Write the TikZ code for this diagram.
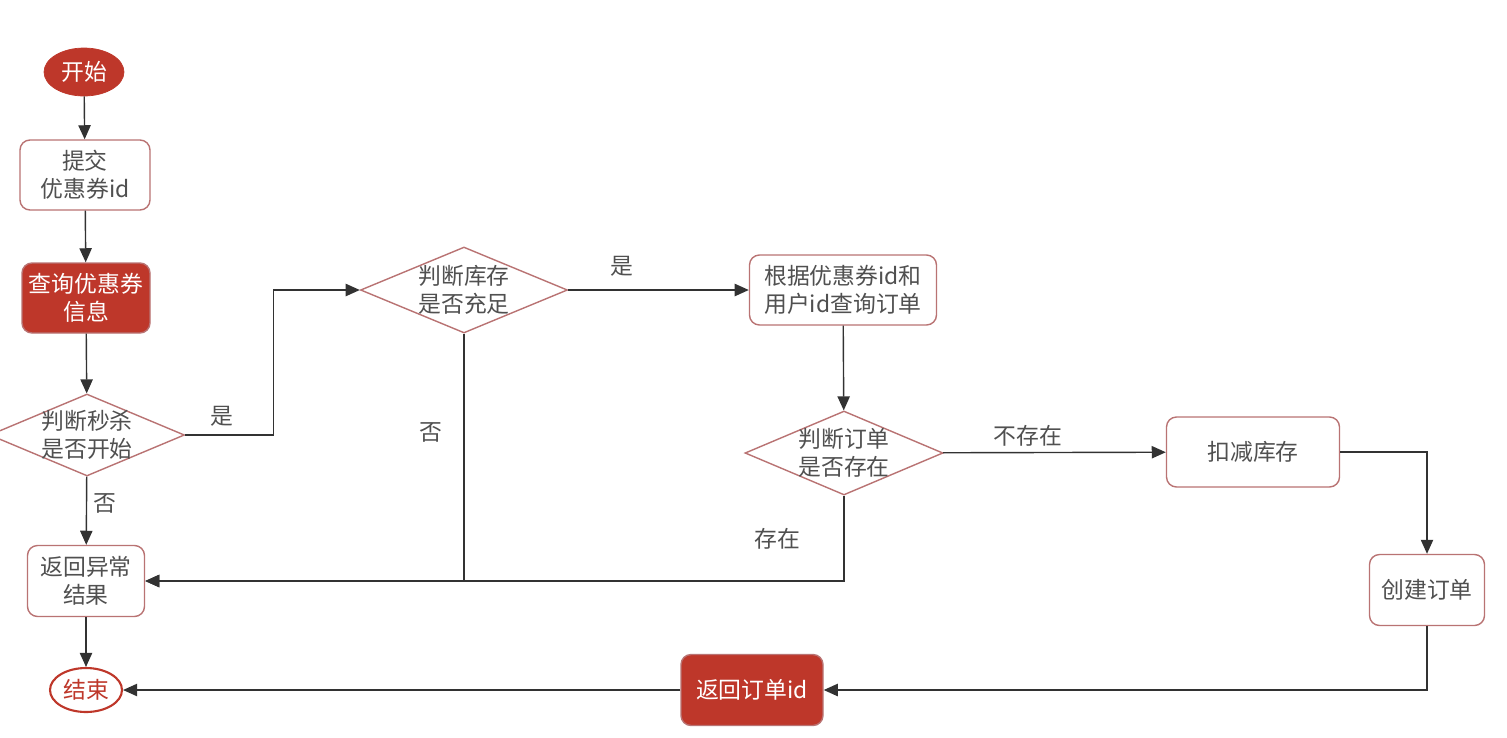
\documentclass[tikz,border=0pt]{standalone}
\usepackage{fontspec}
\setmainfont{Noto Sans CJK SC}
\usepackage{xcolor}
\usepackage{tikz}
\usetikzlibrary{shapes.geometric, arrows.meta, positioning, calc}

\definecolor{seckillred}{RGB}{190,55,42}
\definecolor{edgerose}{RGB}{185,115,115}
\definecolor{textgray}{RGB}{80,80,80}
\definecolor{linegray}{RGB}{50,50,50}

\begin{document}
\begin{tikzpicture}[
    font=\fontsize{13}{16}\selectfont,
    stepbox/.style={rectangle, draw=edgerose, rounded corners=0.2cm, fill=white, text=textgray, align=center, thick},
    hotbox/.style={rectangle, draw=edgerose, rounded corners=0.2cm, fill=seckillred, text=white, align=center, thick},
    checkbox/.style={diamond, draw=edgerose, fill=white, text=textgray, align=center, aspect=2.4, inner sep=-3pt, thick},
    flowline/.style={-{Stealth[length=8pt, width=7pt, inset=0pt]}, thick, draw=linegray},
    tag/.style={text=textgray}
]
    \useasboundingbox (0,0) rectangle (30.14,-14.74);

    \node (start) [ellipse, fill=seckillred, draw=seckillred, text=white, minimum width=1.6cm, minimum height=0.96cm, inner sep=0pt] at (1.68,-1.44) {开始};
    \node (submit) [stepbox, minimum width=2.6cm, minimum height=1.4cm] at (1.70,-3.50) {提交\\优惠券id};
    \node (query) [hotbox, minimum width=2.56cm, minimum height=1.4cm] at (1.72,-5.96) {查询优惠券\\信息};
    \node (begun) [checkbox, minimum width=3.9cm, minimum height=1.64cm] at (1.74,-8.70) {判断秒杀\\是否开始};
    \node (fail) [stepbox, minimum width=2.34cm, minimum height=1.42cm] at (1.72,-11.62) {返回异常\\结果};
    \node (finish) [ellipse, draw=seckillred, very thick, fill=white, text=seckillred, minimum width=1.44cm, minimum height=0.88cm, inner sep=0pt] at (1.72,-13.80) {结束};

    \node (stock) [checkbox, minimum width=4.14cm, minimum height=1.72cm] at (9.28,-5.80) {判断库存\\是否充足};
    \node (lookup) [stepbox, minimum width=3.74cm, minimum height=1.4cm] at (16.86,-5.80) {根据优惠券id和\\用户id查询订单};
    \node (exists) [checkbox, minimum width=3.96cm, minimum height=1.68cm] at (16.88,-9.06) {判断订单\\是否存在};
    \node (deduct) [stepbox, minimum width=3.46cm, minimum height=1.4cm] at (25.06,-9.04) {扣减库存};
    \node (create) [stepbox, minimum width=2.3cm, minimum height=1.42cm] at (28.54,-11.80) {创建订单};
    \node (reply) [hotbox, minimum width=2.84cm, minimum height=1.42cm] at (15.04,-13.80) {返回订单id};

    \draw [flowline] (start) -- (submit);
    \draw [flowline] (submit) -- (query);
    \draw [flowline] (query) -- (begun);
    \draw [flowline] (begun.east) -- node[tag, above, yshift=0.05cm, xshift=-0.15cm] {是} ++(1.76,0) |- (stock.west);
    \draw [flowline] (begun) -- node[tag, right, pos=0.4] {否} (fail);
    \draw [flowline] (stock) -- node[tag, above, pos=0.3, yshift=0.15cm] {是} (lookup);
    \draw [flowline] (stock.south) |- node[tag, left=0.3cm, pos=0.2] {否} (fail.east);
    \draw [flowline] (lookup) -- (exists);
    \draw [flowline] (exists.south) |- node[tag, left=0.75cm, pos=0.25] {存在} (fail.east);
    \draw [flowline] (exists) -- node[tag, above, pos=0.38] {不存在} (deduct);
    \draw [flowline] (deduct.east) -| (create.north);
    \draw [flowline] (create.south) |- (reply.east);
    \draw [flowline] (reply) -- (finish);
    \draw [flowline] (fail) -- (finish);
\end{tikzpicture}
\end{document}
